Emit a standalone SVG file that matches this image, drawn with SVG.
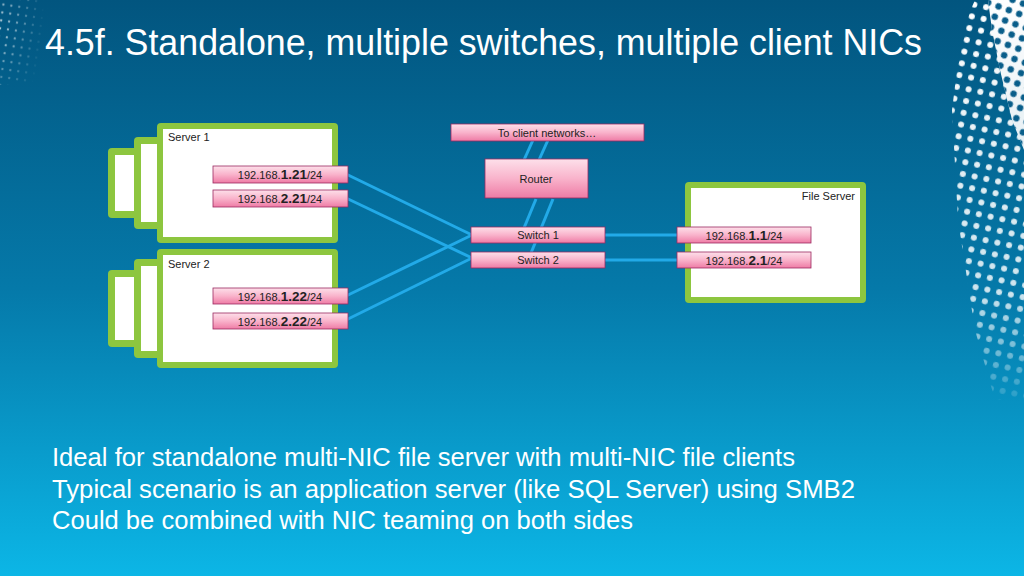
<svg xmlns="http://www.w3.org/2000/svg" width="1024" height="576" viewBox="0 0 1024 576">
<defs>
<linearGradient id="bg" x1="0" y1="0" x2="0" y2="1">
<stop offset="0" stop-color="#02557f"/>
<stop offset="0.5" stop-color="#0579a9"/>
<stop offset="1" stop-color="#0cb6e6"/>
</linearGradient>
<linearGradient id="pink" x1="0" y1="0" x2="0" y2="1">
<stop offset="0" stop-color="#fde0ea"/>
<stop offset="0.5" stop-color="#f9b3cb"/>
<stop offset="1" stop-color="#ee7ba5"/>
</linearGradient>
<pattern id="wdots" width="12" height="12" patternUnits="userSpaceOnUse" patternTransform="rotate(12)">
<circle cx="6" cy="6" r="3" fill="#ffffff"/>
</pattern>
<pattern id="bdots" width="11" height="11" patternUnits="userSpaceOnUse" patternTransform="rotate(20)">
<circle cx="5.5" cy="5.5" r="3.2" fill="#0a5e8a"/>
</pattern>
<pattern id="sdots" width="8" height="8" patternUnits="userSpaceOnUse" patternTransform="rotate(8)">
<circle cx="4" cy="4" r="1.2" fill="#ffffff"/>
</pattern>
<linearGradient id="fadeR" x1="0" y1="0" x2="0" y2="1">
<stop offset="0" stop-color="#fff" stop-opacity="1"/>
<stop offset="0.7" stop-color="#fff" stop-opacity="0.8"/>
<stop offset="1" stop-color="#fff" stop-opacity="0"/>
</linearGradient>
<radialGradient id="fadeL" cx="0" cy="0.3" r="1">
<stop offset="0" stop-color="#fff" stop-opacity="0.7"/>
<stop offset="1" stop-color="#fff" stop-opacity="0"/>
</radialGradient>
<mask id="mR"><rect x="900" y="0" width="124" height="420" fill="url(#fadeR)"/></mask>
<mask id="mL"><rect x="0" y="0" width="45" height="85" fill="url(#fadeL)"/></mask>
<style>
.green{fill:#8dc63f;}
.white{fill:#ffffff;}
.nic{fill:url(#pink);stroke:#9b2a60;stroke-width:0.8;}
.lbl{font-family:"Liberation Sans",Arial,sans-serif;font-size:11px;fill:#222;}
.ip{font-family:"Liberation Sans",Arial,sans-serif;font-size:11px;fill:#222;text-anchor:middle;}
.ip tspan.b{font-weight:bold;font-size:13.5px;}
.link{stroke:#22aae8;stroke-width:3;fill:none;}
.title{font-family:"Liberation Sans",Arial,sans-serif;font-size:36px;fill:#ffffff;}
.body{font-family:"Liberation Sans",Arial,sans-serif;font-size:25.5px;fill:#ffffff;}
</style>
</defs>
<rect width="1024" height="576" fill="url(#bg)"/>
<g id="decor">
<g mask="url(#mR)">
<path d="M975,0 L1024,0 L1024,400 L995,400 L975,330 L958,220 L952,110 L962,30 Z" fill="url(#wdots)"/>
<path d="M988,0 L1024,0 L1024,150 L1012,120 L1000,70 L992,30 Z" fill="#ffffff"/>
<path d="M988,0 L1024,0 L1024,150 L1012,120 L1000,70 L992,30 Z" fill="url(#bdots)"/>
</g>
<rect x="0" y="0" width="45" height="85" fill="url(#sdots)" mask="url(#mL)"/>
</g>
<text class="title" x="45" y="55" textLength="877" lengthAdjust="spacingAndGlyphs">4.5f. Standalone, multiple switches, multiple client NICs</text>
<g id="connectors">
<line class="link" x1="346" y1="174" x2="472" y2="235"/>
<line class="link" x1="346" y1="198" x2="472" y2="258"/>
<line class="link" x1="346" y1="296" x2="472" y2="235"/>
<line class="link" x1="346" y1="320" x2="472" y2="258"/>
<line class="link" x1="604" y1="235" x2="678" y2="235"/>
<line class="link" x1="604" y1="260" x2="678" y2="260"/>
<line class="link" x1="536" y1="199" x2="524" y2="228"/>
<line class="link" x1="553" y1="199" x2="531" y2="253"/>
<line class="link" x1="524" y1="160" x2="533" y2="140"/>
<line class="link" x1="539" y1="160" x2="548" y2="140"/>
</g>
<g id="server1">
<rect class="green" x="108" y="148" width="40" height="70" rx="4"/>
<rect class="white" x="115" y="155" width="30" height="56"/>
<rect class="green" x="134" y="137" width="32" height="92" rx="4"/>
<rect class="white" x="141" y="144" width="22" height="78"/>
<rect class="green" x="157" y="123" width="181" height="120" rx="4"/>
<rect class="white" x="163" y="129" width="169" height="108"/>
<text class="lbl" x="168" y="141">Server 1</text>
</g>
<g id="s1nic1">
<rect class="nic" x="213" y="166" width="135" height="17"/>
<text class="ip" x="280" y="179">192.168.<tspan class="b">1.21</tspan>/24</text>
</g>
<g id="s1nic2">
<rect class="nic" x="213" y="190" width="135" height="17"/>
<text class="ip" x="280" y="203">192.168.<tspan class="b">2.21</tspan>/24</text>
</g>
<g id="server2">
<rect class="green" x="108" y="270" width="40" height="77" rx="4"/>
<rect class="white" x="115" y="277" width="30" height="63"/>
<rect class="green" x="134" y="259" width="32" height="99" rx="4"/>
<rect class="white" x="141" y="266" width="22" height="85"/>
<rect class="green" x="157" y="249" width="181" height="119" rx="4"/>
<rect class="white" x="163" y="255" width="169" height="107"/>
<text class="lbl" x="168" y="268">Server 2</text>
</g>
<g id="s2nic1">
<rect class="nic" x="213" y="288" width="135" height="16"/>
<text class="ip" x="280" y="300.5">192.168.<tspan class="b">1.22</tspan>/24</text>
</g>
<g id="s2nic2">
<rect class="nic" x="213" y="313" width="135" height="16"/>
<text class="ip" x="280" y="325.5">192.168.<tspan class="b">2.22</tspan>/24</text>
</g>
<g id="toclient">
<rect class="nic" x="451" y="124" width="193" height="17"/>
<text class="ip" x="547" y="136.5">To client networks…</text>
</g>
<g id="router">
<rect class="nic" x="485" y="159" width="103" height="39"/>
<text class="ip" x="536" y="183">Router</text>
</g>
<g id="switch1">
<rect class="nic" x="471" y="227" width="134" height="16"/>
<text class="ip" x="538" y="239">Switch 1</text>
</g>
<g id="switch2">
<rect class="nic" x="471" y="252" width="134" height="16"/>
<text class="ip" x="538" y="264">Switch 2</text>
</g>
<g id="fileserver">
<rect class="green" x="685" y="182" width="181" height="121" rx="4"/>
<rect class="white" x="691" y="188" width="169" height="109"/>
<text class="lbl" x="855" y="200" text-anchor="end">File Server</text>
</g>
<g id="fsnic1">
<rect class="nic" x="677" y="227" width="134" height="16"/>
<text class="ip" x="744" y="239.5">192.168.<tspan class="b">1.1</tspan>/24</text>
</g>
<g id="fsnic2">
<rect class="nic" x="677" y="252" width="134" height="16"/>
<text class="ip" x="744" y="264.5">192.168.<tspan class="b">2.1</tspan>/24</text>
</g>
<g id="bullets">
<text class="body" x="52" y="466" textLength="743" lengthAdjust="spacingAndGlyphs">Ideal for standalone multi-NIC file server with multi-NIC file clients</text>
<text class="body" x="52" y="498" textLength="803" lengthAdjust="spacingAndGlyphs">Typical scenario is an application server (like SQL Server) using SMB2</text>
<text class="body" x="52" y="529" textLength="581" lengthAdjust="spacingAndGlyphs">Could be combined with NIC teaming on both sides</text>
</g>
</svg>
